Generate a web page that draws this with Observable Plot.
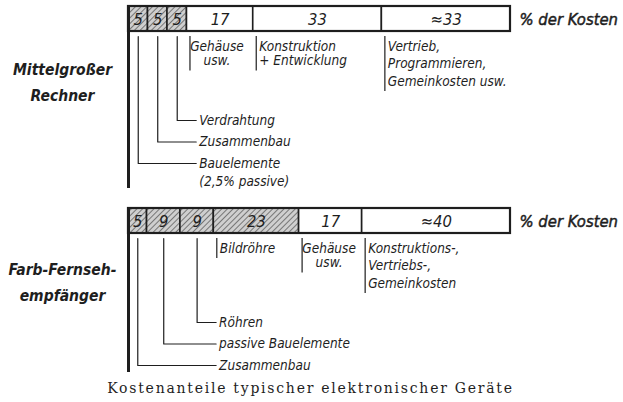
<!DOCTYPE html>
<html><head><meta charset="utf-8">
<script src="https://cdn.jsdelivr.net/npm/d3@7"></script>
<script src="https://cdn.jsdelivr.net/npm/@observablehq/plot@0.6"></script>
<style>body{margin:0;background:#fff}</style>
</head><body><div id="chart"></div>
<script>
// ---- data ----
const devices = ["Mittelgroßer Rechner", "Farb-Fernsehempfänger"];
const deviceLines = [["Mittelgroßer", "Rechner"], ["Farb-Fernseh-", "empfänger"]];
const rechnerValues = [5, 5, 5, 17, 33, 33];
const rechnerLabels = ["5", "5", "5", "17", "33", "≈33"];
const rechnerHatched = [true, true, true, false, false, false];
const tvValues = [5, 9, 9, 23, 17, 40];
const tvLabels = ["5", "9", "9", "23", "17", "≈40"];
const tvHatched = [true, true, true, true, false, false];
const unitLabel = "% der Kosten";
// leader annotations: [segment index, text lines]
const rechnerLeaders = [[2, ["Verdrahtung"]], [1, ["Zusammenbau"]], [0, ["Bauelemente", "(2,5% passive)"]]];
const rechnerNotes = [[3, ["Gehäuse", "usw."]], [4, ["Konstruktion", "+ Entwicklung"]], [5, ["Vertrieb,", "Programmieren,", "Gemeinkosten usw."]]];
const tvLeaders = [[2, ["Röhren"]], [1, ["passive Bauelemente"]], [0, ["Zusammenbau"]]];
const tvNotes = [[3, ["Bildröhre"]], [4, ["Gehäuse", "usw."]], [5, ["Konstruktions-,", "Vertriebs-,", "Gemeinkosten"]]];
const caption = "Kostenanteile typischer elektronischer Geräte";

// ---- layout (pixels) ----
const W = 623, H = 402, X0 = 128, X1 = 510, PW = X1 - X0;
const px = (p) => p / PW;               // pixel distance -> x units
const barTops = [6, 208];
const barH = 25;
const FONT = "'DejaVu Sans Condensed', 'DejaVu Sans', sans-serif";
const INK = "#1e1e1e";

const series = [
  {values: rechnerValues, labels: rechnerLabels, hatched: rechnerHatched, leaders: rechnerLeaders, notes: rechnerNotes},
  {values: tvValues, labels: tvLabels, hatched: tvHatched, leaders: tvLeaders, notes: tvNotes}
];

const segs = [], leaderPts = [], leaderText = [], noteRules = [], noteText = [], leftRules = [], devText = [];
series.forEach((s, di) => {
  const top = barTops[di];
  const total = d3.sum(s.values);
  let acc = 0;
  s.values.forEach((v, i) => {
    segs.push({device: devices[di], i, x1: acc / total, x2: (acc + v) / total, y1: top, y2: top + barH,
               label: s.labels[i], hatched: s.hatched[i]});
    acc += v;
  });
  const mySegs = segs.filter(d => d.device === devices[di]);
  const bottom = top + barH;
  // leaders
  const maxCenter = d3.max(s.leaders, ([k]) => (mySegs[k].x1 + mySegs[k].x2) / 2);
  const endX = maxCenter + px(19);
  let ly = top + 114;
  let lastY = ly;
  s.leaders.forEach(([k, lines], j) => {
    const cx = (mySegs[k].x1 + mySegs[k].x2) / 2;
    const id = di + "-" + j;
    leaderPts.push({id, x: cx, y: bottom + 5}, {id, x: cx, y: ly}, {id, x: endX, y: ly});
    lines.forEach((t, m) => leaderText.push({x: endX + px(3), y: ly + m * 18, text: t}));
    lastY = ly + (lines.length - 1) * 18;
    ly += 21.5;
  });
  leftRules.push({x: 0, y1: top, y2: lastY + 7});
  // notes
  s.notes.forEach(([k, lines]) => {
    const sx = mySegs[k].x1;
    const centered = lines[0] === "Gehäuse";
    const lh = lines.length > 2 ? 17.5 : 14.5;
    const ny = top + 40;
    noteRules.push({x: sx + px(3), y1: bottom + 5, y2: ny + (lines.length - 1) * lh + 10});
    lines.forEach((t, m) => noteText.push({
      x: centered ? sx + px(30) : sx + px(6), y: ny + m * lh, text: t, anchor: centered ? "middle" : "start"}));
  });
  deviceLines[di].forEach((t, m) => devText.push({x: -px(X0 - 62), y: top + (di === 0 ? 64 : 62) + m * 26, text: t}));
});

const textOpts = {fontFamily: FONT, fontStyle: "italic", fill: INK};

const chart = Plot.plot({
  width: W, height: H,
  marginLeft: X0, marginRight: W - X1, marginTop: 0, marginBottom: 0,
  x: {domain: [0, 1], axis: null},
  y: {domain: [0, H], range: [0, H], axis: null},
  style: {background: "#fff"},
  marks: [
    Plot.rect(segs.filter(d => d.hatched), {x1: "x1", x2: "x2", y1: "y1", y2: "y2", fill: "url(#hatch)", stroke: INK, strokeWidth: 1.6}),
    Plot.rect(segs.filter(d => !d.hatched), {x1: "x1", x2: "x2", y1: "y1", y2: "y2", fill: "#fff", stroke: INK, strokeWidth: 1.6}),
    Plot.rect(barTops, {x1: 0, x2: 1, y1: d => d, y2: d => d + barH, fill: "none", stroke: INK, strokeWidth: 2.2}),
    Plot.text(segs, {x: d => (d.x1 + d.x2) / 2, y: d => d.y1 + barH / 2 + 1, text: "label", fontSize: 16.5, ...textOpts}),
    Plot.ruleX(leftRules, {x: "x", y1: "y1", y2: "y2", stroke: INK, strokeWidth: 3}),
    Plot.line(leaderPts, {x: "x", y: "y", z: "id", stroke: INK, strokeWidth: 1.2, curve: "linear"}),
    Plot.ruleX(noteRules, {x: "x", y1: "y1", y2: "y2", stroke: INK, strokeWidth: 1.2}),
    Plot.text(leaderText, {x: "x", y: "y", text: "text", textAnchor: "start", fontSize: 13.5, ...textOpts}),
    Plot.text(noteText, {x: "x", y: "y", text: "text", textAnchor: "start", fontSize: 13.5, ...textOpts, filter: d => d.anchor === "start"}),
    Plot.text(noteText, {x: "x", y: "y", text: "text", textAnchor: "middle", fontSize: 13.5, ...textOpts, filter: d => d.anchor === "middle"}),
    Plot.text(devText, {x: "x", y: "y", text: "text", textAnchor: "middle", fontSize: 15.5, fontWeight: "bold", ...textOpts}),
    Plot.text(barTops, {x: 1 + px(9), y: d => d + barH / 2 + 1, text: () => unitLabel, textAnchor: "start", fontSize: 16.5,
      ...textOpts, stroke: INK, strokeWidth: 0.45}),
    Plot.text([caption], {x: px(310 - X0), y: 388, text: d => d, textAnchor: "middle", fontSize: 14,
      fontFamily: "'DejaVu Serif', 'Liberation Serif', serif", fill: INK})
  ]
});

d3.select(chart).selectAll("text").filter(function () { return this.textContent === caption; })
  .style("letter-spacing", "1.75px");

const defs = d3.select(chart).insert("defs", ":first-child");
const pat = defs.append("pattern").attr("id", "hatch").attr("patternUnits", "userSpaceOnUse")
  .attr("width", 4).attr("height", 4).attr("patternTransform", "rotate(45)");
pat.append("rect").attr("width", 4).attr("height", 4).attr("fill", "#cfcfcf");
pat.append("line").attr("x1", 0).attr("y1", 0).attr("x2", 0).attr("y2", 4).attr("stroke", "#3a3a3a").attr("stroke-width", 1.2);

document.getElementById("chart").append(chart);
</script>
</body></html>
